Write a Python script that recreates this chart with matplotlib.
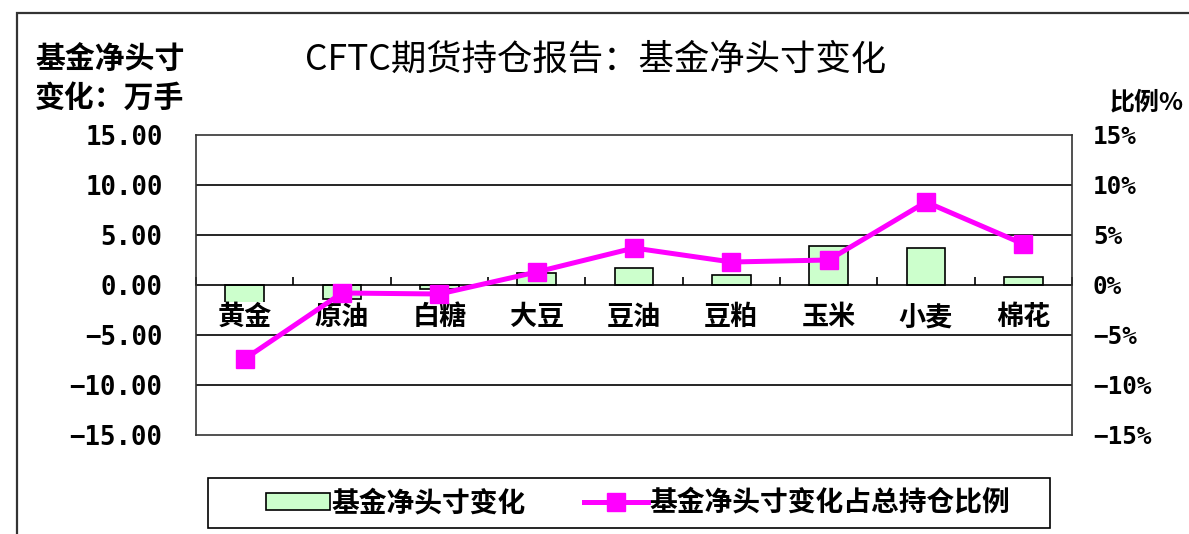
import numpy as np
import matplotlib
matplotlib.use('Agg')
import matplotlib.pyplot as plt
from matplotlib.patches import Rectangle
from matplotlib.ticker import FixedLocator, FuncFormatter

plt.rcParams['font.family'] = ['Noto Sans CJK SC', 'DejaVu Sans']
plt.rcParams['font.weight'] = 'bold'

# data
categories = ['黄金', '原油', '白糖', '大豆', '豆油', '豆粕', '玉米', '小麦', '棉花']
net_change = [-2.5, -1.4, -0.4, 1.2, 1.7, 1.0, 3.9, 3.7, 0.85]   # 万手
ratio_pct = [-7.4, -0.8, -0.9, 1.3, 3.7, 2.3, 2.5, 8.3, 4.1]     # %
left_ticks = [-15, -10, -5, 0, 5, 10, 15]
right_ticks = [-15, -10, -5, 0, 5, 10, 15]

W, H = 1189, 534
fig = plt.figure(figsize=(W / 100, H / 100), dpi=100)
fig.patch.set_facecolor('white')

# outer chart frame
fig.patches.append(Rectangle((17 / W, -0.2), 1.2, 1 - 13 / H + 0.2, transform=fig.transFigure,
                             fill=False, edgecolor='#333333', linewidth=1.6))

ax = fig.add_axes([196 / W, 1 - 435 / H, (1072 - 196) / W, (435 - 135) / H])
x = np.arange(len(categories))

ax.bar(x, net_change, width=0.4, color='#CCFFCC', edgecolor='black', linewidth=1.2, zorder=1)
ax.set_xlim(-0.5, len(categories) - 0.5)
ax.set_ylim(-15, 15)

for g in [-10, -5, 5, 10]:
    ax.axhline(g, color='black', linewidth=1.2, zorder=0.8)

for s in ['top', 'right', 'left']:
    ax.spines[s].set_visible(False)
ax.spines['bottom'].set_position(('data', 0))
ax.spines['bottom'].set_linewidth(1.2)

# category boundaries as ticks, names as minor ticks
ax.xaxis.set_major_locator(FixedLocator(np.arange(len(categories) + 1) - 0.5))
ax.xaxis.set_minor_locator(FixedLocator(x))
ax.set_xticklabels([''] * (len(categories) + 1))
ax.set_xticklabels(categories, minor=True)
ax.tick_params(axis='x', which='major', direction='in', length=6, width=1.2)
ax.tick_params(axis='x', which='minor', length=0, pad=13, labelsize=19.5)
for lab in ax.get_xticklabels(minor=True):
    lab.set_fontweight('bold')
    lab.set_bbox(dict(facecolor='white', edgecolor='none', pad=1))

ax.set_yticks(left_ticks)
ax.yaxis.set_major_formatter(FuncFormatter(lambda v, p: f'{v:.2f}'.replace('-', '−')))
ax.tick_params(axis='y', length=0, pad=24)
for lab in ax.get_yticklabels():
    lab.set_fontfamily('DejaVu Sans Mono')
    lab.set_fontweight('bold')
    lab.set_fontsize(18.5)

ax2 = ax.twinx()
ax2.plot(x, ratio_pct, color='#FF00FF', linewidth=3.6, marker='s', markersize=13, zorder=3)
ax2.set_ylim(-15, 15)
ax2.set_yticks(right_ticks)
ax2.yaxis.set_major_formatter(FuncFormatter(lambda v, p: f'{int(v)}%'.replace('-', '−')))
ax2.tick_params(axis='y', length=0, pad=15)
for lab in ax2.get_yticklabels():
    lab.set_fontfamily('DejaVu Sans Mono')
    lab.set_fontweight('bold')
    lab.set_fontsize(17.5)
for s in ax2.spines.values():
    s.set_linewidth(1.2)
    s.set_color('#333333')

fig.text(596 / W, 1 - 60 / H, 'CFTC期货持仓报告：基金净头寸变化', ha='center', va='center',
         fontsize=25.5, fontweight='normal')
fig.text(35 / W, 1 - 60 / H, '基金净头寸', ha='left', va='center', fontsize=21.5, fontweight='bold')
fig.text(35 / W, 1 - 98 / H, '变化：万手', ha='left', va='center', fontsize=21.5, fontweight='bold')
fig.text(1184 / W, 1 - 102 / H, '比例%', ha='right', va='center', fontsize=18, fontweight='bold')

# legend frame drawn separately to match the reference box
fig.patches.append(Rectangle((208 / W, 1 - 528 / H), (1050 - 208) / W, 50 / H,
                             transform=fig.transFigure, fill=False, edgecolor='black', linewidth=1.2))
bars_h = Rectangle((0, 0), 1, 1, facecolor='#CCFFCC', edgecolor='black', linewidth=1.2)
line_h, = ax2.plot([], [], color='#FF00FF', linewidth=3.6, marker='s', markersize=13)
leg = fig.legend([bars_h, line_h], ['基金净头寸变化', '基金净头寸变化占总持仓比例'],
                 loc='center', bbox_to_anchor=(638 / W, 1 - 503 / H), ncol=2,
                 frameon=False, prop={'size': 20, 'weight': 'bold'},
                 handlelength=2.3, handleheight=0.55, handletextpad=0.05, columnspacing=2.1)

fig.savefig('out.png', dpi=100, facecolor='white')
